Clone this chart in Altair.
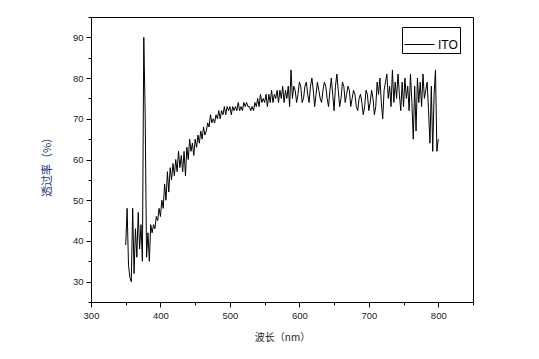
import altair as alt
import pandas as pd

transmittance = [
    39, 48, 34, 31, 30, 48, 32, 43, 36, 47,   # 350-368
    38, 44, 35, 90, 71, 36, 42, 35, 44, 42,   # 370-388
    44, 43, 46, 45, 48, 46, 50, 48, 54, 50,   # 390-408
    57, 52, 58, 55, 59, 56, 60, 57, 62, 58,   # 410-428
    61, 57, 62, 56, 63, 60, 65, 62, 64, 61,   # 430-448
    65, 63, 66, 64, 67, 65, 68, 66, 67, 69,   # 450-468
    68, 71, 69, 70, 69, 71, 70, 72, 70, 72,   # 470-488
    71, 73, 71, 73, 72, 73, 71, 73, 72, 73,   # 490-508
    72, 74, 72, 73, 72, 74, 73, 74, 73, 73,   # 510-528
    72, 73, 72, 74, 73, 75, 73, 76, 74, 75,   # 530-548
    74, 76, 73, 76, 74, 77, 74, 76, 75, 77,   # 550-568
    74, 77, 75, 78, 74, 77, 75, 78, 73, 82,   # 570-588
    75, 78, 77, 74, 76, 79, 78, 74, 75, 78,   # 590-608
    79, 76, 74, 78, 80, 77, 73, 76, 79, 77,   # 610-628
    75, 74, 77, 79, 78, 75, 73, 77, 80, 76,   # 630-648
    72, 78, 81, 77, 73, 75, 79, 78, 74, 76,   # 650-668
    78, 77, 73, 75, 77, 76, 73, 72, 75, 76,   # 670-688
    74, 71, 73, 77, 76, 72, 74, 77, 75, 71,   # 690-708
    73, 79, 76, 80, 74, 70, 77, 79, 81, 75,   # 710-728
    78, 73, 82, 74, 79, 75, 81, 76, 72, 79,   # 730-748
    73, 80, 75, 78, 72, 81, 74, 65, 78, 67,   # 750-768
    80, 74, 79, 73, 81, 75, 77, 79, 72, 64,   # 770-788
    78, 62, 76, 82, 62, 65,                   # 790-800
]
wavelength = [350 + 2 * i for i in range(len(transmittance))]
series = ["ITO"] * len(transmittance)

x_ticks = [300, 350, 400, 450, 500, 550, 600, 650, 700, 750, 800, 850]
y_ticks = [25, 30, 35, 40, 45, 50, 55, 60, 65, 70, 75, 80, 85, 90, 95]

df = pd.DataFrame({"wl": wavelength, "t": transmittance, "s": series})

label_font = "Liberation Sans"
cjk_font = "Noto Sans CJK SC"

chart = alt.Chart(df).mark_line(strokeWidth=1).encode(
    x=alt.X(
        "wl:Q",
        scale=alt.Scale(domain=[300, 850], nice=False, zero=False),
        axis=alt.Axis(
            values=x_ticks,
            labelExpr="datum.value % 100 === 0 ? datum.label : ''",
            tickSize={"condition": {"test": "datum.value % 100 === 0", "value": 5}, "value": 3},
            labelFlush=False,
            labelOverlap=False,
            grid=False,
            domainColor="black",
            tickColor="black",
            labelColor="#222222",
            labelFont=label_font,
            labelFontSize=9.5,
            labelPadding=3,
            title="波长（nm）",
            titleFont=cjk_font,
            titleFontSize=10,
            titleFontWeight="normal",
            titleColor="#222222",
            titleBaseline="middle",
            titleY=35,
        ),
    ),
    y=alt.Y(
        "t:Q",
        scale=alt.Scale(domain=[25, 95], nice=False, zero=False),
        axis=alt.Axis(
            values=y_ticks,
            labelExpr="datum.value % 10 === 0 ? datum.label : ''",
            tickSize={"condition": {"test": "datum.value % 10 === 0", "value": 5}, "value": 3},
            labelFlush=False,
            labelOverlap=False,
            grid=False,
            domainColor="black",
            tickColor="black",
            labelColor="#222222",
            labelFont=label_font,
            labelFontSize=9.5,
            labelPadding=3,
            title="透过率（%）",
            titleFont=cjk_font,
            titleFontSize=11,
            titleFontWeight="normal",
            titleColor="#1a3a7a",
            titleAngle=270,
            titleAlign="center",
            titleBaseline="middle",
            titleX=-44,
            titleY=147,
        ),
    ),
    color=alt.Color(
        "s:N",
        scale=alt.Scale(range=["black"]),
        legend=alt.Legend(
            title=None,
            orient="none",
            legendX=311,
            legendY=10,
            symbolType="stroke",
            symbolSize=900,
            symbolStrokeWidth=1,
            symbolStrokeColor="black",
            labelFont=label_font,
            labelFontSize=12,
            labelColor="black",
            labelOffset=3,
            strokeColor="black",
            fillColor="white",
            padding=2,
            cornerRadius=0,
        ),
    ),
).properties(
    width=382,
    height=285,
    autosize=alt.AutoSizeParams(type="none"),
    padding={"left": 91, "top": 17, "right": 66, "bottom": 57},
    background="white",
).configure_view(
    stroke="black",
    strokeWidth=1,
)

chart.save("out.html", embed_options={"renderer": "svg", "actions": False})
